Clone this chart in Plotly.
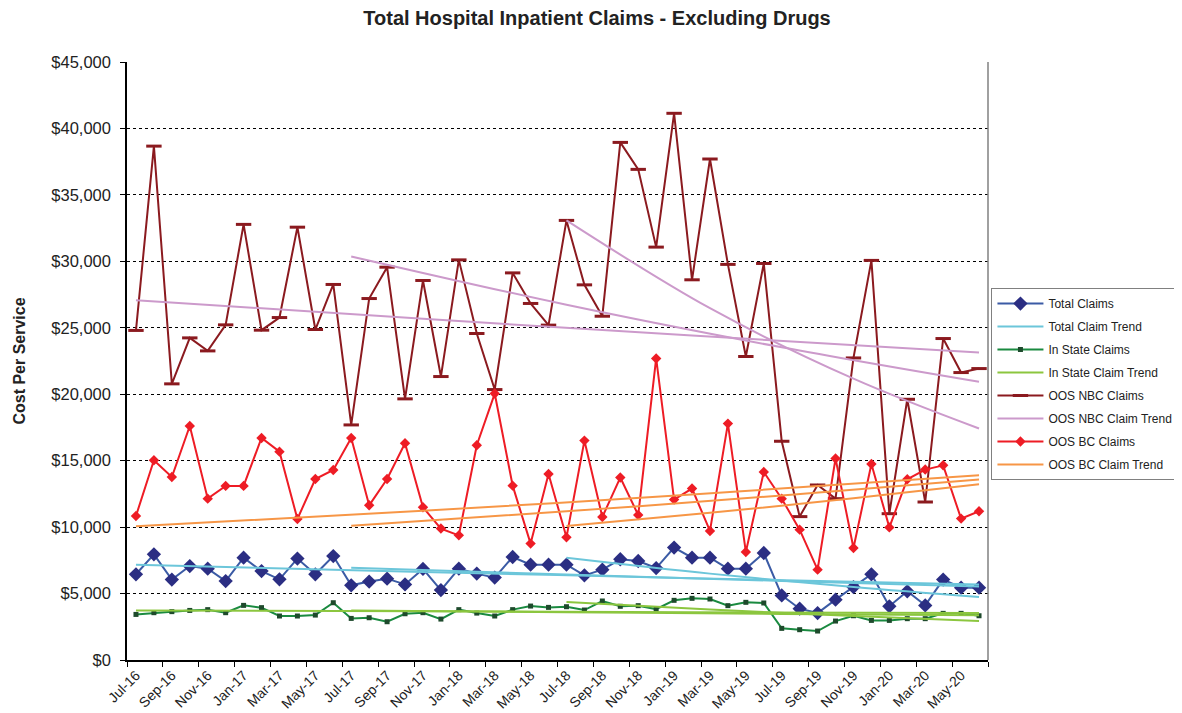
import numpy as np
import plotly.graph_objects as go

months = ["Jul-16", "Aug-16", "Sep-16", "Oct-16", "Nov-16", "Dec-16",
          "Jan-17", "Feb-17", "Mar-17", "Apr-17", "May-17", "Jun-17",
          "Jul-17", "Aug-17", "Sep-17", "Oct-17", "Nov-17", "Dec-17",
          "Jan-18", "Feb-18", "Mar-18", "Apr-18", "May-18", "Jun-18",
          "Jul-18", "Aug-18", "Sep-18", "Oct-18", "Nov-18", "Dec-18",
          "Jan-19", "Feb-19", "Mar-19", "Apr-19", "May-19", "Jun-19",
          "Jul-19", "Aug-19", "Sep-19", "Oct-19", "Nov-19", "Dec-19",
          "Jan-20", "Feb-20", "Mar-20", "Apr-20", "May-20", "Jun-20"]

total_claims = [6450, 7950, 6050, 7070, 6870, 5940, 7700, 6690, 6070, 7630, 6450, 7820,
                5620, 5900, 6120, 5690, 6850, 5260, 6870, 6500, 6200, 7750, 7170, 7170,
                7170, 6370, 6800, 7580, 7450, 6920, 8460, 7700, 7700, 6870, 6870, 8050,
                4860, 3860, 3530, 4540, 5490, 6450, 4040, 5170, 4110, 6050, 5440, 5440]

in_state_claims = [3430, 3560, 3640, 3730, 3790, 3560, 4110, 3940, 3310, 3310, 3380, 4310,
                   3130, 3180, 2880, 3480, 3560, 3080, 3790, 3530, 3310, 3790, 4060, 3960,
                   4010, 3760, 4440, 4040, 4090, 3830, 4490, 4640, 4590, 4090, 4340, 4290,
                   2380, 2280, 2180, 2930, 3330, 2980, 2980, 3110, 3110, 3510, 3510, 3330]

oos_nbc_claims = [24800, 38670, 20780, 24240, 23260, 25220, 32780, 24820, 25770, 32570, 24870, 28260,
                  17690, 27200, 29560, 19650, 28560, 21330, 30110, 24570, 20350, 29130, 26830, 25200,
                  33080, 28230, 25870, 38950, 36920, 31070, 41140, 28610, 37700, 29770, 22840, 29840,
                  16460, 10790, 13170, 12140, 22730, 30070, 11010, 19620, 11890, 24190, 21630, 21930]

oos_bc_claims = [10840, 15030, 13770, 17610, 12140, 13100, 13100, 16710, 15680, 10610, 13620, 14300,
                 16710, 11640, 13620, 16310, 11490, 9890, 9380, 16160, 20050, 13120, 8760, 14000,
                 9230, 16510, 10760, 13730, 10910, 22690, 12070, 12900, 9710, 17790, 8130, 14150,
                 12140, 9810, 6800, 15160, 8430, 14750, 9980, 13600, 14330, 14650, 10640, 11190]

# Trend series: values at a few months along each curve
trend_months_a = ["Jul-16", "Nov-17", "Feb-19", "Jun-20"]   # Jul-16 .. Jun-20
trend_months_b = ["Jul-17", "Jul-18", "Jul-19", "Jun-20"]   # Jul-17 .. Jun-20
trend_months_c = ["Jul-18", "Mar-19", "Nov-19", "Jun-20"]   # Jul-18 .. Jun-20

total_trend_a = [7170, 6630, 6160, 5690]
total_trend_b = [6950, 6430, 5950, 5540]
total_trend_c = [7700, 6500, 5490, 4740]

in_state_trend_a = [3730, 3660, 3600, 3530]
in_state_trend_b = [3730, 3600, 3470, 3360]
in_state_trend_c = [4360, 3800, 3310, 2930]

oos_nbc_trend_a = [27080, 25670, 24410, 23140]
oos_nbc_trend_b = [30370, 26730, 23530, 20930]
oos_nbc_trend_c = [33080, 26470, 21170, 17420]

oos_bc_trend_a = [10060, 11230, 12450, 13900]
oos_bc_trend_b = [10110, 11190, 12380, 13580]
oos_bc_trend_c = [10080, 11080, 12170, 13220]

FONT = 'Arial, "Liberation Sans", sans-serif'
xidx = np.arange(len(months))


def pos(labels):
    return [months.index(m) for m in labels]


series = [
    dict(name="Total Claims", trend="Total Claim Trend", vals=total_claims,
         line="#3B5BA5", mcol="#2B2E83", symbol="diamond", msize=11, mlw=0,
         tcol="#6CC6DA", trends=[total_trend_a, total_trend_b, total_trend_c]),
    dict(name="In State Claims", trend="In State Claim Trend", vals=in_state_claims,
         line="#1A8A40", mcol="#1E4A2C", symbol="square", msize=5, mlw=0,
         tcol="#8CC63F", trends=[in_state_trend_a, in_state_trend_b, in_state_trend_c]),
    dict(name="OOS NBC Claims", trend="OOS NBC Claim Trend", vals=oos_nbc_claims,
         line="#8B1A1F", mcol="#8B1A1F", symbol="line-ew", msize=11, mlw=3,
         tcol="#CC9ACB", trends=[oos_nbc_trend_a, oos_nbc_trend_b, oos_nbc_trend_c]),
    dict(name="OOS BC Claims", trend="OOS BC Claim Trend", vals=oos_bc_claims,
         line="#EE1C25", mcol="#EE1C25", symbol="diamond", msize=8, mlw=0,
         tcol="#F79646", trends=[oos_bc_trend_a, oos_bc_trend_b, oos_bc_trend_c]),
]
trend_months = [trend_months_a, trend_months_b, trend_months_c]

fig = go.Figure()

rank = 1
for s in series:
    mk = dict(symbol=s["symbol"], size=s["msize"], color=s["mcol"])
    if s["mlw"]:
        mk["line"] = dict(width=s["mlw"], color=s["mcol"])
    fig.add_trace(go.Scatter(
        x=xidx, y=s["vals"], name=s["name"], mode="lines+markers",
        line=dict(color=s["line"], width=2), marker=mk,
        legendgroup=s["name"], legendrank=rank))
    s["rank_t"] = rank + 1
    rank += 2

for s in series:
    for i, (tm, tv) in enumerate(zip(trend_months, s["trends"])):
        fig.add_trace(go.Scatter(
            x=pos(tm), y=tv, name=s["trend"], mode="lines",
            line=dict(color=s["tcol"], width=2, shape="spline"),
            legendgroup=s["trend"], legendrank=s["rank_t"],
            showlegend=(i == 0)))

# the page body offsets the figure by 8px; the window shows the top-left 1174x705 of it
W, H = 1174, 705
fig.update_layout(
    width=W, height=H,
    margin=dict(l=119, r=194, t=54, b=53, autoexpand=False),
    plot_bgcolor="white", paper_bgcolor="white",
    font=dict(family=FONT, color="#222222"),
    title=dict(text="<b>Total Hospital Inpatient Claims - Excluding Drugs</b>",
               x=589 / W, xref="container", xanchor="center",
               y=1 - 10 / H, yref="container", yanchor="middle",
               font=dict(size=20, family=FONT, color="#222222")),
    showlegend=True,
    legend=dict(x=1.004, y=0.622, xanchor="left", yanchor="top",
                bordercolor="#808080", borderwidth=1, bgcolor="white",
                font=dict(size=12, family=FONT, color="#222222"),
                tracegroupgap=4, itemwidth=46),
)

fig.update_yaxes(
    range=[0, 45000], dtick=5000, tickformat="$,.0f",
    showgrid=True, gridcolor="#000000", griddash="dot", gridwidth=1,
    showline=True, linecolor="#000000", linewidth=1.5,
    ticks="outside", ticklen=5, tickcolor="#000000",
    ticklabelstandoff=6, automargin=False,
    tickfont=dict(size=16.5, family=FONT, color="#222222"),
    zeroline=False,
    title=dict(text="<b>Cost Per Service</b>", standoff=22,
               font=dict(size=16, family=FONT, color="#222222")),
)

fig.update_xaxes(
    range=[-0.5, len(months) - 0.5],
    tickmode="array", tickvals=xidx[::2], ticktext=months[::2],
    tickangle=-45, ticks="", showgrid=False, zeroline=False,
    showline=True, linecolor="#000000", linewidth=1.5, automargin=False,
    tickfont=dict(size=14, family=FONT, color="#222222"),
    minor=dict(tickmode="array", tickvals=list(np.arange(-0.5, len(months), 2.0)),
               ticks="outside", ticklen=5, tickcolor="#000000", showgrid=False),
)

fig.add_shape(type="line", xref="paper", yref="paper", x0=1, x1=1, y0=0, y1=1,
              line=dict(color="#808080", width=1.5))

fig.write_html("out.html")
